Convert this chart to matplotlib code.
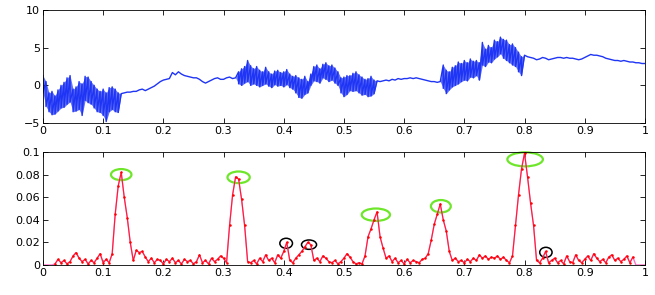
import numpy as np
import matplotlib
matplotlib.use("Agg")
from matplotlib import pyplot as plt
from matplotlib.patches import Ellipse

# top signal: upper / lower envelope every 0.005
top_hi = [
    1.3, 0.5, -1.0, -0.8, -1.4, -0.6, 0.0, 0.4, 1.0, 1.3,
    -0.5, -0.2, 0.5, 0.2, 1.2, 1.1, 0.5, 0.0, -0.5, -0.8,
    -0.5, -1.0, -0.3, -0.2, -0.5, -1.0, -1.1, -1.0, -0.9, -0.9,
    -0.8, -0.8, -0.6, -0.5, -0.7, -0.5, -0.3, -0.1, 0.2, 0.5,
    0.7, 0.8, 0.9, 1.7, 1.4, 1.8, 1.5, 1.3, 1.2, 1.1,
    1.0, 1.0, 0.8, 0.5, 0.3, 0.5, 0.7, 0.9, 1.0, 0.8,
    0.8, 1.0, 1.1, 0.9, 1.0, 1.8, 2.2, 2.5, 3.3, 2.6,
    2.2, 2.5, 2.0, 1.8, 2.4, 1.8, 1.5, 1.9, 2.0, 1.7,
    1.8, 2.1, 1.5, 1.2, 1.3, 1.0, 0.8, 1.2, 0.5, 1.5,
    2.5, 2.7, 2.2, 2.8, 3.0, 2.6, 2.7, 2.3, 1.8, 1.0,
    1.1, 1.3, 1.3, 1.6, 1.8, 1.4, 1.1, 0.8, 0.9, 1.2,
    0.7, 0.6, 0.5, 0.6, 0.7, 0.6, 0.8, 0.7, 0.9, 0.8,
    0.9, 0.9, 1.0, 0.9, 1.0, 0.9, 0.8, 0.7, 0.6, 0.5,
    0.5, 0.4, 0.5, 2.7, 2.0, 1.8, 2.4, 2.6, 3.1, 2.9,
    3.3, 3.0, 3.5, 3.2, 3.3, 3.0, 5.7, 4.8, 5.3, 5.0,
    6.0, 5.8, 6.4, 6.1, 6.0, 5.4, 5.5, 5.0, 4.4, 3.8,
    4.0, 3.8, 3.7, 3.6, 3.4, 3.5, 3.7, 3.6, 3.4, 3.5,
    3.6, 3.7, 3.7, 3.6, 3.7, 3.6, 3.6, 3.5, 3.4, 3.5,
    3.7, 3.9, 4.1, 4.0, 4.0, 3.9, 3.8, 3.6, 3.5, 3.4,
    3.3, 3.3, 3.2, 3.3, 3.2, 3.1, 3.1, 3.0, 3.0, 2.9,
    2.9,
]
top_lo = [
    -1.0, -2.8, -3.5, -3.9, -3.8, -3.4, -3.0, -2.9, -2.5, -2.2,
    -3.5, -3.4, -3.2, -4.0, -2.0, -2.3, -2.5, -3.0, -3.5, -3.6,
    -4.0, -4.8, -3.5, -3.2, -3.5, -3.6, -1.1, -1.0, -0.9, -0.9,
    -0.8, -0.8, -0.6, -0.5, -0.7, -0.5, -0.3, -0.1, 0.2, 0.5,
    0.7, 0.8, 0.9, 1.7, 1.4, 1.8, 1.5, 1.3, 1.2, 1.1,
    1.0, 1.0, 0.8, 0.5, 0.3, 0.5, 0.7, 0.9, 1.0, 0.8,
    0.8, 1.0, 1.1, 0.9, 1.0, 0.2, 0.0, 0.3, 0.5, 0.0,
    0.2, 0.0, -0.2, 0.0, 0.2, -0.1, -0.3, 0.1, -0.1, 0.0,
    -0.2, 0.1, -0.3, -0.5, -1.0, -1.6, -1.7, -1.2, -1.0, 0.0,
    0.6, 0.5, 0.3, 1.0, 0.8, 0.5, 0.7, 0.3, 0.0, -1.0,
    -1.5, -1.2, -0.7, -0.8, -0.7, -1.0, -1.3, -1.2, -1.5, -1.4,
    -1.1, 0.6, 0.5, 0.6, 0.7, 0.6, 0.8, 0.7, 0.9, 0.8,
    0.9, 0.9, 1.0, 0.9, 1.0, 0.9, 0.8, 0.7, 0.6, 0.5,
    0.5, 0.4, 0.5, -0.4, -1.1, -0.6, -0.2, 0.0, 0.2, 0.5,
    0.7, 0.6, 1.1, 1.0, 1.3, 0.7, 2.7, 2.5, 3.1, 3.0,
    3.5, 3.8, 4.2, 3.6, 3.3, 3.0, 2.7, 2.5, 1.8, 1.3,
    4.0, 3.8, 3.7, 3.6, 3.4, 3.5, 3.7, 3.6, 3.4, 3.5,
    3.6, 3.7, 3.7, 3.6, 3.7, 3.6, 3.6, 3.5, 3.4, 3.5,
    3.7, 3.9, 4.1, 4.0, 4.0, 3.9, 3.8, 3.6, 3.5, 3.4,
    3.3, 3.3, 3.2, 3.3, 3.2, 3.1, 3.1, 3.0, 3.0, 2.9,
    2.9,
]

# bottom spectrum, every 0.005
spec = [
    0, 0, 0, 0, 0.001, 0.005, 0.002, 0.004, 0.001, 0.003,
    0.008, 0.011, 0.006, 0.003, 0.005, 0.001, 0.004, 0.002, 0.006, 0.010,
    0.002, 0.005, 0.002, 0.010, 0.045, 0.070, 0.082, 0.060, 0.042, 0.020,
    0.004, 0.013, 0.011, 0.012, 0.007, 0.003, 0.006, 0.002, 0.005, 0.004,
    0.001, 0.005, 0.003, 0.006, 0.002, 0.004, 0.001, 0.005, 0.003, 0.004,
    0.001, 0.003, 0.009, 0.002, 0.004, 0.001, 0.006, 0.003, 0.005, 0.008,
    0.006, 0.002, 0.035, 0.062, 0.078, 0.076, 0.058, 0.035, 0.003, 0.002,
    0.004, 0.001, 0.006, 0.003, 0.009, 0.004, 0.006, 0.002, 0.009, 0.006,
    0.012, 0.020, 0.004, 0.002, 0.006, 0.009, 0.012, 0.016, 0.020, 0.018,
    0.004, 0.006, 0.003, 0.008, 0.006, 0.003, 0.002, 0.004, 0.001, 0.003,
    0.006, 0.010, 0.007, 0.003, 0.001, 0.002, 0.001, 0.008, 0.025, 0.032,
    0.040, 0.047, 0.025, 0.015, 0.006, 0.008, 0.003, 0.006, 0.002, 0.004,
    0.001, 0.005, 0.002, 0.004, 0.003, 0.002, 0.005, 0.006, 0.010, 0.022,
    0.036, 0.045, 0.054, 0.040, 0.030, 0.012, 0.004, 0.006, 0.003, 0.004,
    0.002, 0.005, 0.003, 0.006, 0.004, 0.009, 0.006, 0.008, 0.005, 0.007,
    0.006, 0.008, 0.005, 0.007, 0.004, 0.002, 0.008, 0.035, 0.062, 0.085,
    0.099, 0.078, 0.055, 0.035, 0.004, 0.002, 0.006, 0.012, 0.002, 0.004,
    0.006, 0.002, 0.004, 0.001, 0.008, 0.003, 0.002, 0.009, 0.004, 0.002,
    0.005, 0.008, 0.004, 0.010, 0.006, 0.003, 0.005, 0.002, 0.007, 0.009,
    0.004, 0.006, 0.003, 0.005, 0.008, 0.002, 0.007, 0, 0, 0,
    0,
]
t = np.linspace(0, 1, len(spec))

# marked peaks (green) and small ones (black): centre x, centre y, width, height
green_x = [0.130, 0.325, 0.553, 0.661, 0.801]
green_y = [0.080, 0.0776, 0.0445, 0.052, 0.0935]
green_w = [0.034, 0.037, 0.047, 0.033, 0.059]
green_h = [0.0098, 0.0103, 0.011, 0.011, 0.0124]
black_x = [0.404, 0.442, 0.8355]
black_y = [0.0192, 0.018, 0.0112]
black_w = [0.021, 0.025, 0.0205]
black_h = [0.0089, 0.0083, 0.0089]

plt.rcParams["font.family"] = "DejaVu Sans"
plt.rcParams["font.size"] = 8

fig = plt.figure(figsize=(6.55, 2.95), dpi=100)
ax1 = fig.add_axes([0.0656, 0.583, 0.919, 0.383])
ax2 = fig.add_axes([0.0656, 0.1017, 0.919, 0.383])

blue = "#1f35f5"
# zig-zag between the lower and upper envelope -> looks like the noisy trace
zig_t = np.repeat(t, 2)
zig_v = np.column_stack([top_hi, top_lo]).ravel()
ax1.fill_between(t, top_lo, top_hi, color=blue, lw=0, alpha=0.7)
ax1.plot(zig_t, zig_v, color=blue, lw=1.0)
ax1.set_ylim(-5, 10)
ax1.set_yticks([-5, 0, 5, 10])

ax2.plot(t, spec, color="#ff70c8", lw=1.0)
ax2.plot(t[4:-4], spec[4:-4], color="#ff0000", lw=0.8, alpha=0.75)
ax2.plot(t[4:-4], spec[4:-4], color="#ff0000", ls="none", marker=".", ms=1.6)
ax2.set_ylim(0, 0.1)
ax2.set_yticks([0, 0.02, 0.04, 0.06, 0.08, 0.1])
ax2.set_yticklabels(["0", "0.02", "0.04", "0.06", "0.08", "0.1"])

for cx, cy, w, h in zip(green_x, green_y, green_w, green_h):
    ax2.add_patch(Ellipse((cx, cy), w, h, fill=False, ec="#6ee62a", lw=1.6, clip_on=False))
for cx, cy, w, h in zip(black_x, black_y, black_w, black_h):
    ax2.add_patch(Ellipse((cx, cy), w, h, fill=False, ec="black", lw=1.1))

for ax in (ax1, ax2):
    ax.set_xlim(0, 1)
    ax.set_xticks(np.arange(0, 1.01, 0.1))
    ax.set_xticklabels(["0", "0.1", "0.2", "0.3", "0.4", "0.5", "0.6", "0.7", "0.8", "0.9", "1"])
    ax.tick_params(direction="in", top=True, right=True, length=3.5, width=0.6, pad=2)
    for s in ax.spines.values():
        s.set_linewidth(0.6)

fig.savefig("out.png", dpi=100)
